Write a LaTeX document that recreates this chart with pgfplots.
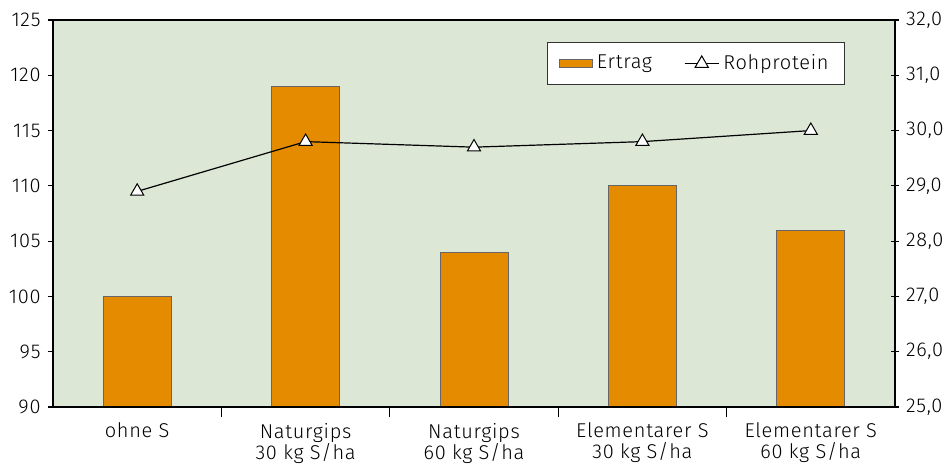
\documentclass[border=0pt]{standalone}
\usepackage{pgfplots}
\pgfplotsset{compat=1.18}
\usepackage{fontspec}
\setmainfont{Fira Sans}[UprightFont=* Light, LetterSpace=3.5]
\definecolor{bgcol}{RGB}{220,232,213}
\definecolor{barcol}{RGB}{228,139,0}
\pgfplotsset{
  barlegend/.style={
    legend image code/.code={\draw[##1] (0pt,-2.2pt) rectangle (16.5pt,2.2pt);},
  },
}

\begin{document}
\begin{tikzpicture}
\useasboundingbox (-26.5pt,-29.5pt) rectangle (447pt,203.5pt);
\pgfplotsset{
  every axis/.append style={
    scale only axis, width=421pt, height=193.5pt,
    xmin=-0.5, xmax=4.5,
    font=\fontsize{10}{10.5}\selectfont,
    /pgf/number format/assume math mode=true,
    axis line style={black, line width=0.6pt},
    tick style={black, line width=0.6pt},
  },
}
% bars (left axis)
\begin{axis}[
  axis background/.style={fill=bgcol},
  ymin=90, ymax=125, ytick distance=5,
  ytick pos=left, tick align=outside, major tick length=2.7pt,
  xtick=\empty,
  ybar, bar width=34pt,
]
\addplot[fill=barcol, draw=black!60, line width=0.4pt] coordinates {
  (0,100) (1,119) (2,104) (3,110) (4,106)
};
\end{axis}
% category boundary ticks
\begin{axis}[
  ymin=0, ymax=1, ytick=\empty, axis line style={draw=none},
  xtick={0.5,1.5,2.5,3.5}, xticklabels={}, xtick pos=bottom,
  tick align=outside, major tick length=5pt,
]
\end{axis}
% category labels
\begin{axis}[
  ymin=0, ymax=1, ytick=\empty, axis line style={draw=none},
  xtick={0,...,4}, major tick length=0pt, xtick pos=bottom,
  xticklabels={ohne S, {Naturgips\\30 kg S/ha}, {Naturgips\\60 kg S/ha},
    {Elementarer S\\30 kg S/ha}, {Elementarer S\\60 kg S/ha}},
  xticklabel style={align=center, yshift=-4.5pt},
]
\end{axis}
% line (right axis)
\begin{axis}[
  ymin=25, ymax=32, ytick distance=1,
  ytick pos=right, tick align=center, major tick length=4pt,
  yticklabel style={/pgf/number format/.cd, use comma, fixed, fixed zerofill, precision=1},
  xtick=\empty,
  legend columns=2,
  legend style={at={(0.9406,0.943)}, anchor=north east, draw=black!80,
    fill=white, inner xsep=6pt, inner ysep=4pt,
    /tikz/every even column/.append style={column sep=14pt}},
]
\addlegendimage{fill=barcol, draw=black!60, line width=0.4pt, barlegend}
\addlegendentry{Ertrag}
\addplot[black, line width=0.6pt, mark=triangle*, mark size=3.8pt,
  mark options={fill=white, draw=black, line width=0.5pt}] coordinates {
  (0,28.9) (1,29.8) (2,29.7) (3,29.8) (4,30.0)
};
\addlegendentry{Rohprotein}
\end{axis}
\end{tikzpicture}
\end{document}
